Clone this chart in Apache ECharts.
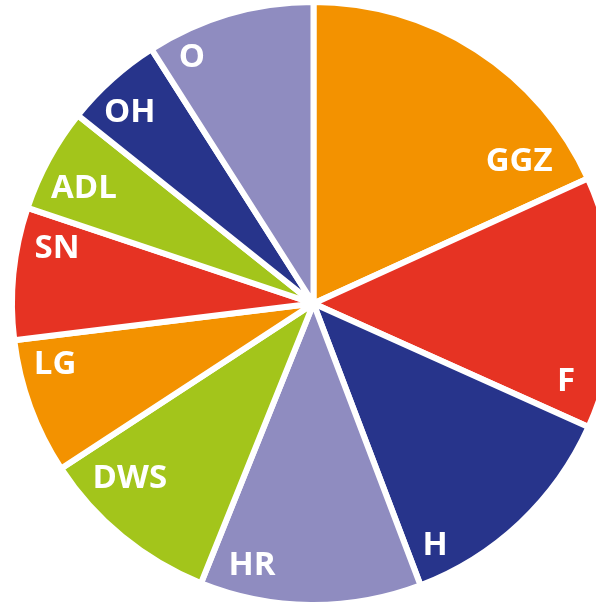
<!DOCTYPE html>
<html>
<head>
<meta charset="utf-8">
<script src="https://cdn.jsdelivr.net/npm/echarts@6/dist/echarts.min.js"></script>
<style>
html,body{margin:0;padding:0;background:#fff;}
#chart{width:596px;height:604px;}
</style>
</head>
<body>
<div id="chart"></div>
<script>
// Data (slice sizes read as degrees of the full circle)
const categories = ['GGZ', 'F', 'H', 'HR', 'DWS', 'LG', 'SN', 'ADL', 'OH', 'O'];
const values = [65.5, 48.7, 45.0, 42.7, 34.9, 26.2, 25.5, 20.1, 18.9, 32.5];

// Styling / label placement (separate from data)
const colors = ['#F39200', '#E63323', '#27348B', '#8F8CC0', '#A3C51B',
                '#F39200', '#E63323', '#A3C51B', '#27348B', '#8F8CC0'];
const labelAngle = [55.4, 107.2, 153.3, 193.2, 226.4, 256.7, 282.1, 296.6, 316.1, 333.7];
const labelRadius = [249.8, 264.3, 270.8, 269.1, 253.6, 265.6, 262.3, 256.7, 264.9, 274.4];

const cx = 313.5, cy = 303.5, R = 301.5;

const chart = echarts.init(document.getElementById('chart'), null, {renderer: 'canvas'});
chart.setOption({
  animation: false,
  backgroundColor: '#ffffff',
  series: [{
    type: 'pie',
    center: [cx, cy],
    radius: [0, R],
    startAngle: 90,
    clockwise: true,
    avoidLabelOverlap: false,
    data: categories.map((c, i) => ({
      name: c,
      value: values[i],
      itemStyle: {color: colors[i]}
    })),
    itemStyle: {borderColor: '#ffffff', borderWidth: 6},
    label: {
      show: true,
      position: 'inside',
      formatter: '{b}',
      color: '#ffffff',
      fontFamily: 'Open Sans',
      fontWeight: 'bold',
      fontSize: 33
    },
    labelLine: {show: false},
    labelLayout: function (p) {
      const i = p.dataIndex;
      const a = labelAngle[i] * Math.PI / 180;
      return {
        x: cx + labelRadius[i] * Math.sin(a),
        y: cy - labelRadius[i] * Math.cos(a),
        align: 'center',
        verticalAlign: 'middle'
      };
    },
    emphasis: {disabled: true}
  }]
});
</script>
</body>
</html>
